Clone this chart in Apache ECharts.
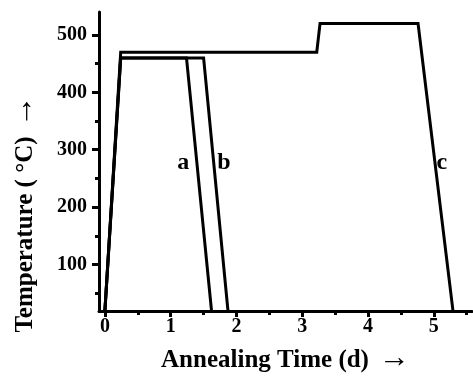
<!DOCTYPE html>
<html>
<head>
<meta charset="utf-8">
<script src="https://cdn.jsdelivr.net/npm/echarts@6/dist/echarts.min.js"></script>
<style>
html, body { margin: 0; padding: 0; background: #fff; }
#chart { width: 473px; height: 379px; }
</style>
</head>
<body>
<div id="chart"></div>
<script>
// annealing profiles (time in days, temperature in °C)
var timeA = [0, 0.24, 1.24, 1.62];
var tempA = [20, 460, 460, 20];
var timeB = [0, 0.24, 1.5, 1.87];
var tempB = [20, 460, 460, 20];
var timeC = [0, 0.24, 3.22, 3.27, 4.76, 5.29];
var tempC = [20, 470, 470, 520, 520, 20];

var curveNames = ['a', 'b', 'c'];
var labelTime = [1.19, 1.81, 5.12];
var labelTemp = [278, 278, 278];

var xTicks = [0, 1, 2, 3, 4, 5];
var xMinorTicks = [0.5, 1.5, 2.5, 3.5, 4.5, 5.5];
var yTicks = [100, 200, 300, 400, 500];
var yMinorTicks = [50, 150, 250, 350, 450];

var font = 'Liberation Serif, Times New Roman, serif';

function pairs(xs, ys) {
    var out = [];
    for (var i = 0; i < xs.length; i++) {
        out.push([xs[i], ys[i]]);
    }
    return out;
}

var xRange = {min: -0.09, max: 5.58};
var yRange = {min: 19, max: 540};

// title text plus a bigger arrow, set apart a little
var titleRich = {
    t: {color: '#000', fontFamily: font, fontWeight: 'bold', fontSize: 25, verticalAlign: 'middle'},
    ar: {color: '#000', fontFamily: font, fontWeight: 'normal', fontSize: 31, verticalAlign: 'middle',
        padding: [0, 0, 4, 10]}
};

function mainX() {
    return {
        type: 'value', position: 'bottom', min: xRange.min, max: xRange.max,
        splitLine: {show: false},
        axisLine: {show: true, onZero: false, lineStyle: {color: '#000', width: 3}},
        axisTick: {show: true, inside: false, length: 6, customValues: xTicks,
            lineStyle: {color: '#000', width: 3}},
        axisLabel: {show: true, customValues: xTicks, margin: 6,
            color: '#000', fontFamily: font, fontWeight: 'bold', fontSize: 20},
        name: '{t|Annealing Time (d)}{ar|\u2192}',
        nameLocation: 'middle', nameGap: 32,
        nameTextStyle: {rich: titleRich}
    };
}

function minorX() {
    return {
        type: 'value', position: 'bottom', min: xRange.min, max: xRange.max,
        splitLine: {show: false},
        axisLine: {show: false, onZero: false},
        axisTick: {show: true, length: 4, customValues: xMinorTicks,
            lineStyle: {color: '#000', width: 3}},
        axisLabel: {show: false}
    };
}

function mainY() {
    return {
        type: 'value', position: 'left', min: yRange.min, max: yRange.max,
        splitLine: {show: false},
        axisLine: {show: true, onZero: false, lineStyle: {color: '#000', width: 3}},
        axisTick: {show: true, length: 7, customValues: yTicks,
            lineStyle: {color: '#000', width: 3}},
        axisLabel: {show: true, customValues: yTicks, margin: 12,
            color: '#000', fontFamily: font, fontWeight: 'bold', fontSize: 20}
    };
}

function minorY() {
    return {
        type: 'value', position: 'left', min: yRange.min, max: yRange.max,
        splitLine: {show: false},
        axisLine: {show: false, onZero: false},
        axisTick: {show: true, length: 4, customValues: yMinorTicks,
            lineStyle: {color: '#000', width: 3}},
        axisLabel: {show: false}
    };
}

function profile(name, data) {
    return {
        name: name,
        type: 'line',
        data: data,
        symbol: 'none',
        animation: false,
        clip: false,
        lineStyle: {color: '#000', width: 3, join: 'miter'}
    };
}

var labelData = [];
for (var i = 0; i < curveNames.length; i++) {
    labelData.push({name: curveNames[i], value: [labelTime[i], labelTemp[i]]});
}

var myChart = echarts.init(document.getElementById('chart'));
var option = {
    backgroundColor: '#fff',
    animation: false,
    grid: {left: 99, right: 1, top: 12, bottom: 66, containLabel: false},
    xAxis: [mainX(), minorX()],
    yAxis: [mainY(), minorY()],
    graphic: [{
        type: 'text',
        x: 26, y: 214,
        rotation: Math.PI / 2,
        style: {
            text: '{t|Temperature ( \u00b0C)}{ar|\u2192}',
            rich: titleRich,
            textAlign: 'center',
            textVerticalAlign: 'middle'
        }
    }],
    series: [
        profile('a', pairs(timeA, tempA)),
        profile('b', pairs(timeB, tempB)),
        profile('c', pairs(timeC, tempC)),
        {
            type: 'scatter',
            data: labelData,
            symbolSize: 0,
            silent: true,
            itemStyle: {opacity: 1},
            label: {
                show: true, position: 'inside', formatter: '{b}',
                color: '#000', fontFamily: font, fontWeight: 'bold', fontSize: 24
            }
        }
    ]
};
myChart.setOption(option);
</script>
</body>
</html>
